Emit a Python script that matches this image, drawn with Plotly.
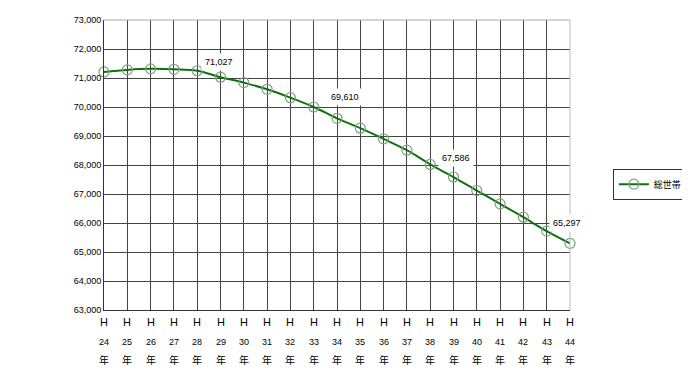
import plotly.graph_objects as go

categories = ["24", "25", "26", "27", "28", "29", "30", "31", "32", "33", "34",
              "35", "36", "37", "38", "39", "40", "41", "42", "43", "44"]
households = [71210, 71280, 71315, 71300, 71250, 71027, 70840, 70610, 70320, 70000,
              69610, 69270, 68900, 68510, 68020, 67586, 67120, 66660, 66200, 65720, 65297]
series_name = "総世帯"
labeled_idx = [5, 10, 15, 20]
label_shift = {5: (-2, 15), 10: (8, 21), 15: (2, 19), 20: (-3, 20)}
prefix_text = "H"
suffix_text = "年"

x = list(range(len(categories)))

fig = go.Figure()
fig.add_trace(go.Scatter(
    x=x, y=households, name=series_name, mode="lines+markers",
    line=dict(color="#0f700f", width=2, shape="spline", smoothing=1),
    marker=dict(symbol="circle-open", size=10, color="#7fa07f", line=dict(width=1.2)),
    cliponaxis=False,
))

anns = []
for i in labeled_idx:
    dx, dy = label_shift[i]
    anns.append(dict(x=x[i], y=households[i], xref="x", yref="y",
                     text=f"{households[i]:,}", showarrow=False,
                     xshift=dx, yshift=dy, bgcolor="white", borderpad=3,
                     font=dict(size=9, color="#000", family="Liberation Sans, Arial")))
for i, c in enumerate(categories):
    for txt, sh, sz in ((prefix_text, -12, 11), (c, -32, 9), (suffix_text, -50, 10)):
        anns.append(dict(x=x[i], y=0, xref="x", yref="paper", text=txt, showarrow=False,
                         yanchor="middle", yshift=sh,
                         font=dict(size=sz, color="#000",
                                   family="Liberation Sans, Noto Sans CJK JP")))

# page body has an 8px default margin, so margins are shifted by 8px
fig.update_layout(
    width=690, height=375,
    margin=dict(l=96, r=128, t=7, b=73),
    paper_bgcolor="white", plot_bgcolor="white",
    showlegend=True,
    legend=dict(x=1.092, y=0.434, xanchor="left", yanchor="middle",
                bordercolor="#333", borderwidth=1, bgcolor="white",
                font=dict(size=9, family="Noto Sans CJK JP", color="#000"),
                itemwidth=30, tracegroupgap=0),
    xaxis=dict(range=[0, len(categories) - 1], tickvals=x, showticklabels=False,
               showgrid=True, gridcolor="#444", gridwidth=1, zeroline=False,
               showline=True, linecolor="#333", linewidth=1, ticks=""),
    yaxis=dict(range=[63000, 73000], dtick=1000, tickformat=",",
               showgrid=True, gridcolor="#444", gridwidth=1, zeroline=False,
               showline=True, linecolor="#333", linewidth=1, ticks="",
               tickfont=dict(size=9, color="#000", family="Liberation Sans, Arial")),
    annotations=anns,
)
fig.add_shape(type="line", xref="paper", yref="paper", x0=0, x1=1, y0=1, y1=1,
              line=dict(color="#aaa", width=1))
fig.add_shape(type="line", xref="paper", yref="paper", x0=1, x1=1, y0=0, y1=1,
              line=dict(color="#bbb", width=1))

fig.write_html("out.html")
